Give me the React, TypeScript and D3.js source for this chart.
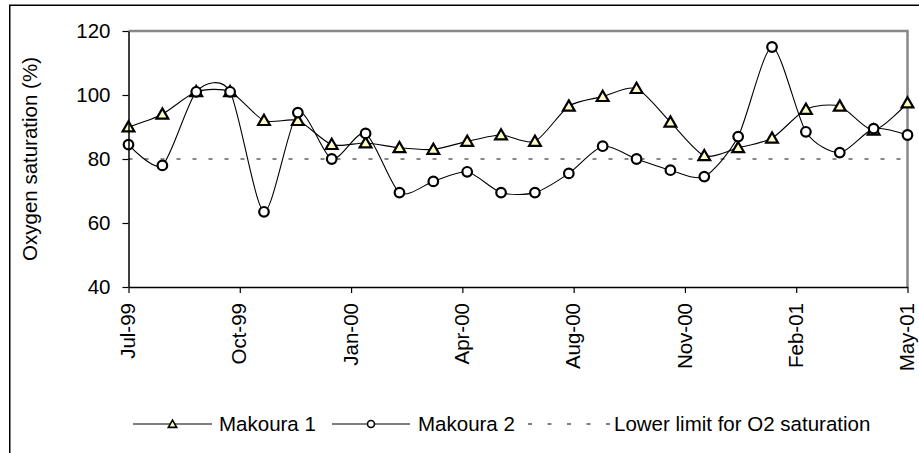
import * as d3 from 'd3';
import { useEffect, useRef } from 'react';

// values (one sample per month-ish, 24 samples)
const makoura1 = [90, 94, 101, 101, 92, 92, 84.5, 85, 83.5, 83, 85.5, 87.5, 85.5, 96.5, 99.5, 102, 91.5, 81, 83.5, 86.5, 95.5, 96.5, 89, 97.5];
const makoura2 = [84.5, 78, 101, 101, 63.5, 94.5, 80, 88, 69.5, 73, 76, 69.5, 69.5, 75.5, 84, 80, 76.5, 74.5, 87, 115, 88.5, 82, 89.5, 87.5];
const lowerLimit = makoura1.map(() => 80);
const xTickLabels = ['Jul-99', 'Oct-99', 'Jan-00', 'Apr-00', 'Aug-00', 'Nov-00', 'Feb-01', 'May-01'];
const yTicks = [40, 60, 80, 100, 120];
const legendNames = ['Makoura 1', 'Makoura 2', 'Lower limit for O2 saturation'];

const W = 919;
const H = 453;
const FONT = '"Liberation Sans", Arial, sans-serif';
const FONT_SIZE = '20.5px';

export default function App() {
  const svgRef = useRef<SVGSVGElement>(null);

  useEffect(() => {
    if (!svgRef.current) return;
    const svg = d3.select(svgRef.current);
    svg.selectAll('*').remove();

    const plot = { left: 128.5, right: 907.5, top: 31, bottom: 287 };
    const n = makoura1.length;

    const x = d3.scaleLinear().domain([0, n - 1]).range([plot.left, plot.right]);
    const y = d3.scaleLinear().domain([40, 120]).range([plot.bottom, plot.top]);

    svg.append('rect').attr('width', W).attr('height', H).attr('fill', '#fff');

    // outer chart border (runs off the right and bottom edges)
    svg.append('rect')
      .attr('x', 9.75)
      .attr('y', 5.25)
      .attr('width', W)
      .attr('height', H)
      .attr('fill', 'none')
      .attr('stroke', '#000')
      .attr('stroke-width', 1.5);

    // grey plot area frame on top and right
    svg.append('path')
      .attr('d', `M${plot.left},${plot.top}H${plot.right}V${plot.bottom}`)
      .attr('fill', 'none')
      .attr('stroke', '#888')
      .attr('stroke-width', 2.5);

    // lower limit
    svg.append('path')
      .datum(lowerLimit)
      .attr('fill', 'none')
      .attr('stroke', '#111')
      .attr('stroke-width', 1)
      .attr('stroke-dasharray', '4,12')
      .attr('d', d3.line<number>().x((d, i) => x(i)).y((d) => y(d)));

    const smooth = d3
      .line<number>()
      .x((d, i) => x(i))
      .y((d) => y(d))
      .curve(d3.curveCardinal.tension(0.25));

    const triangle = d3.symbol().type(d3.symbolTriangle).size(60);
    const triangleSmall = d3.symbol().type(d3.symbolTriangle).size(30);

    // Makoura 1
    svg.append('path')
      .datum(makoura1)
      .attr('fill', 'none')
      .attr('stroke', '#000')
      .attr('stroke-width', 1.1)
      .attr('d', smooth);
    svg.append('g')
      .selectAll('path')
      .data(makoura1)
      .join('path')
      .attr('transform', (d, i) => `translate(${x(i)},${y(d) + 1})`)
      .attr('d', triangle())
      .attr('fill', '#ffffc4')
      .attr('stroke', '#000')
      .attr('stroke-width', 2.2);

    // Makoura 2
    svg.append('path')
      .datum(makoura2)
      .attr('fill', 'none')
      .attr('stroke', '#000')
      .attr('stroke-width', 1.1)
      .attr('d', smooth);
    svg.append('g')
      .selectAll('circle')
      .data(makoura2)
      .join('circle')
      .attr('cx', (d, i) => x(i))
      .attr('cy', (d) => y(d))
      .attr('r', 4.8)
      .attr('fill', '#fff')
      .attr('stroke', '#000')
      .attr('stroke-width', 2.2);

    // y axis
    const yAxis = svg.append('g')
      .attr('transform', `translate(${plot.left},0)`)
      .call(d3.axisLeft(y).tickValues(yTicks).tickSize(6).tickSizeOuter(0).tickPadding(12));
    yAxis.select('.domain').attr('stroke', '#000').attr('stroke-width', 1.5);
    yAxis.selectAll('.tick line').attr('stroke', '#000').attr('stroke-width', 1.2);
    yAxis.selectAll('text')
      .attr('font-family', FONT)
      .attr('font-size', FONT_SIZE)
      .attr('fill', '#000');

    // x axis, labels evenly spread over the sample range
    const xTickValues = xTickLabels.map((_, i) => (i * (n - 1)) / (xTickLabels.length - 1));
    const xAxis = svg.append('g')
      .attr('transform', `translate(0,${plot.bottom})`)
      .call(
        d3.axisBottom(x)
          .tickValues(xTickValues)
          .tickFormat((d, i) => xTickLabels[i])
          .tickSize(6)
          .tickSizeOuter(0),
      );
    xAxis.select('.domain').attr('stroke', '#000').attr('stroke-width', 1.5);
    xAxis.selectAll('.tick line').attr('stroke', '#000').attr('stroke-width', 1.2);
    xAxis.selectAll('text')
      .attr('font-family', FONT)
      .attr('font-size', FONT_SIZE)
      .attr('fill', '#000')
      .attr('transform', 'rotate(-90)')
      .attr('x', -16)
      .attr('y', 0)
      .attr('dy', '0.3em')
      .attr('text-anchor', 'end');

    // y axis title
    svg.append('text')
      .attr('transform', `translate(37,${(plot.top + plot.bottom) / 2}) rotate(-90)`)
      .attr('text-anchor', 'middle')
      .attr('font-family', FONT)
      .attr('font-size', FONT_SIZE)
      .text('Oxygen saturation (%)');

    // legend
    const ly = 424;
    const legendItems = [
      { x0: 133, x1: 212, tx: 219, kind: 'triangle' },
      { x0: 332, x1: 410, tx: 418, kind: 'circle' },
      { x0: 528, x1: 611, tx: 614, kind: 'dash' },
    ];
    const lg = svg.append('g');
    legendItems.forEach((item, i) => {
      lg.append('line')
        .attr('x1', item.x0)
        .attr('x2', item.x1)
        .attr('y1', ly)
        .attr('y2', ly)
        .attr('stroke', '#000')
        .attr('stroke-width', 1.1)
        .attr('stroke-dasharray', item.kind === 'dash' ? '4,15.5' : null);
      const mx = (item.x0 + item.x1) / 2;
      if (item.kind === 'triangle') {
        lg.append('path')
          .attr('transform', `translate(${mx},${ly + 1})`)
          .attr('d', triangleSmall())
          .attr('fill', '#ffffc4')
          .attr('stroke', '#000')
          .attr('stroke-width', 1.6);
      } else if (item.kind === 'circle') {
        lg.append('circle')
          .attr('cx', mx)
          .attr('cy', ly)
          .attr('r', 3.5)
          .attr('fill', '#fff')
          .attr('stroke', '#000')
          .attr('stroke-width', 1.6);
      }
      lg.append('text')
        .attr('x', item.tx)
        .attr('y', ly)
        .attr('dy', '0.36em')
        .attr('font-family', FONT)
        .attr('font-size', FONT_SIZE)
        .text(legendNames[i]);
    });
  }, []);

  return (
    <svg
      ref={svgRef}
      width={W}
      height={H}
      style={{ position: 'absolute', left: 0, top: 0, display: 'block' }}
    />
  );
}
